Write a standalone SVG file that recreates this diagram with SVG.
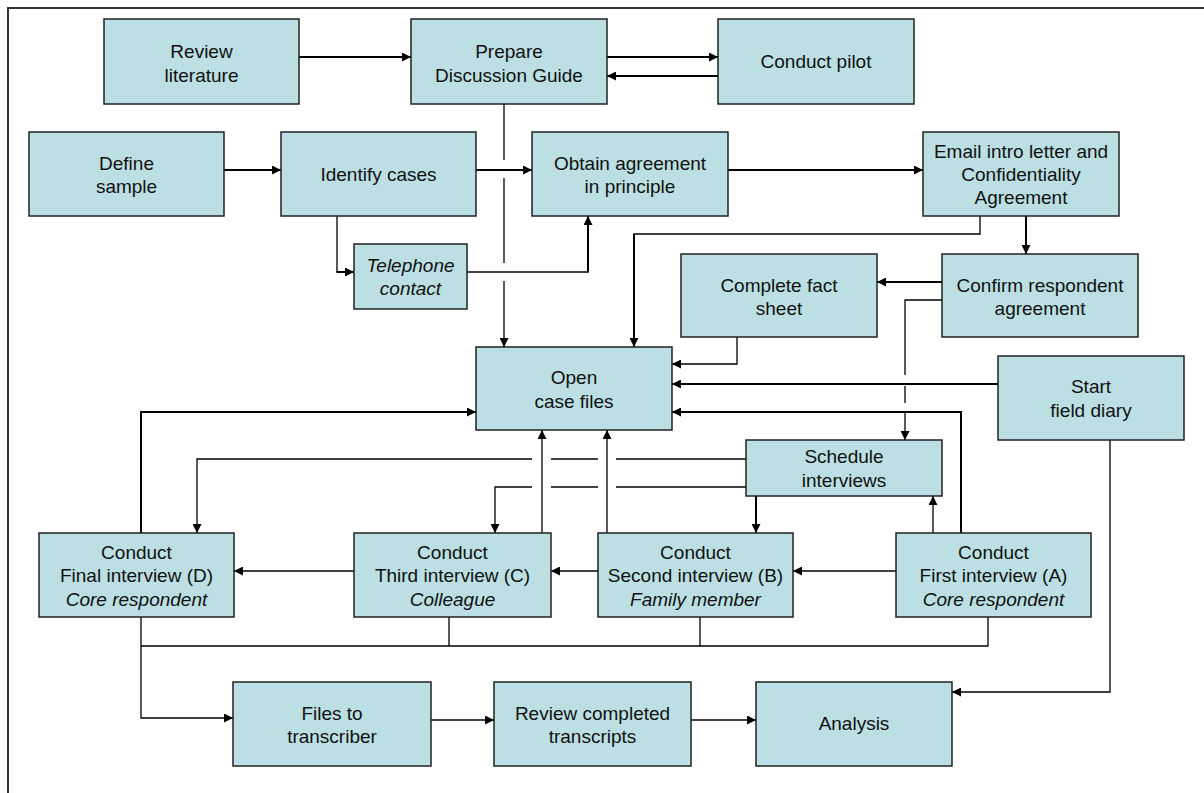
<svg xmlns="http://www.w3.org/2000/svg" width="1204" height="793" viewBox="0 0 1204 793">
  <style>
    .box { fill: #BBDFE2; stroke: #222; stroke-width: 1.5; }
    .lbl { font-family: "Liberation Sans", Arial, sans-serif; font-size: 19px; fill: #111; text-anchor: middle; }
    .it { font-style: italic; }
    .thick { fill: none; stroke: #000; stroke-width: 2; }
    .thin { fill: none; stroke: #000; stroke-width: 1.3; }
    .arr { marker-end: url(#ah); }
  </style>
  <defs>
    <marker id="ah" viewBox="0 0 10 10" refX="10" refY="5" markerWidth="10" markerHeight="9" markerUnits="userSpaceOnUse" orient="auto">
      <path d="M0,0 L10,5 L0,10 z" fill="#000"/>
    </marker>
  </defs>
  <rect width="1204" height="793" fill="#fff"/>
  <!-- page frame -->
  <path d="M8,793 V8 H1204" fill="none" stroke="#333" stroke-width="2"/>

  <!-- connectors -->
  <g id="connectors">
    <path class="thick arr" d="M299,57 H411"/>
    <path class="thick arr" d="M607,57 H718"/>
    <path class="thick arr" d="M718,76 H607"/>
    <path class="thick arr" d="M224,170 H281"/>
    <path class="thick arr" d="M476,170 H532"/>
    <path class="thick arr" d="M728,170 H923"/>
    <path class="thin" d="M504,104 V160"/>
    <path class="thin" d="M504,178 V263"/>
    <path class="thin arr" d="M504,281 V347"/>
    <path class="thin" d="M337,216 V272"/>
    <path class="thick arr" d="M336.4,272 H354"/>
    <path class="thin" d="M467,272 H588"/>
    <path class="thick arr" d="M588,272.6 V216"/>
    <path class="thin" d="M980,216 V234 H634"/>
    <path class="thick arr" d="M634,233.4 V347"/>
    <path class="thick arr" d="M1026,216 V254"/>
    <path class="thick arr" d="M942,282 H877"/>
    <path class="thin" d="M942,300 H905 V375"/>
    <path class="thin" d="M905,386 V403"/>
    <path class="thin arr" d="M905,412 V440"/>
    <path class="thin arr" d="M737,337 V364 H672"/>
    <path class="thick arr" d="M998,384 H672"/>
    <path class="thick arr" d="M961,533 V412 H672"/>
    <path class="thick arr" d="M141,533 V412 H476"/>
    <path class="thin arr" d="M933,533 V496"/>
    <path class="thick arr" d="M756,496 V533"/>
    <path class="thin" d="M746,459 H616"/>
    <path class="thin" d="M598,459 H551"/>
    <path class="thin arr" d="M532,459 H197 V533"/>
    <path class="thin" d="M746,487 H616"/>
    <path class="thin" d="M598,487 H551"/>
    <path class="thin arr" d="M532,487 H495 V533"/>
    <path class="thin arr" d="M542,533 V430"/>
    <path class="thin arr" d="M607,533 V430"/>
    <path class="thin arr" d="M896,571 H793"/>
    <path class="thin arr" d="M598,571 H551"/>
    <path class="thin arr" d="M354,571 H234"/>
    <path class="thin" d="M141,646 H988 V617"/>
    <path class="thin" d="M449,617 V646"/>
    <path class="thin" d="M700,617 V646"/>
    <path class="thin arr" d="M141,617 V718 H233"/>
    <path class="thin arr" d="M431,720 H494"/>
    <path class="thin arr" d="M691,720 H756"/>
    <path class="thin arr" d="M1110,440 V692 H952"/>
  </g>

  <!-- nodes -->
  <g id="review-literature">
    <rect class="box" x="104" y="19" width="195" height="85"/>
    <text class="lbl" x="201.5" y="58">Review</text>
    <text class="lbl" x="201.5" y="82">literature</text>
  </g>
  <g id="prepare-guide">
    <rect class="box" x="411" y="19" width="196" height="85"/>
    <text class="lbl" x="509" y="58">Prepare</text>
    <text class="lbl" x="509" y="82">Discussion Guide</text>
  </g>
  <g id="conduct-pilot">
    <rect class="box" x="718" y="19" width="196" height="85"/>
    <text class="lbl" x="816" y="68">Conduct pilot</text>
  </g>
  <g id="define-sample">
    <rect class="box" x="29" y="132" width="195" height="84"/>
    <text class="lbl" x="126.5" y="170">Define</text>
    <text class="lbl" x="126.5" y="193">sample</text>
  </g>
  <g id="identify-cases">
    <rect class="box" x="281" y="132" width="195" height="84"/>
    <text class="lbl" x="378.5" y="181">Identify cases</text>
  </g>
  <g id="obtain-agreement">
    <rect class="box" x="532" y="132" width="196" height="84"/>
    <text class="lbl" x="630" y="170">Obtain agreement</text>
    <text class="lbl" x="630" y="193">in principle</text>
  </g>
  <g id="email-intro">
    <rect class="box" x="923" y="132" width="196" height="84"/>
    <text class="lbl" x="1021" y="158">Email intro letter and</text>
    <text class="lbl" x="1021" y="181">Confidentiality</text>
    <text class="lbl" x="1021" y="204">Agreement</text>
  </g>
  <g id="telephone-contact">
    <rect class="box" x="354" y="244" width="113" height="65"/>
    <text class="lbl it" x="410.5" y="272">Telephone</text>
    <text class="lbl it" x="410.5" y="295">contact</text>
  </g>
  <g id="complete-fact-sheet">
    <rect class="box" x="681" y="254" width="196" height="83"/>
    <text class="lbl" x="779" y="292">Complete fact</text>
    <text class="lbl" x="779" y="315">sheet</text>
  </g>
  <g id="confirm-agreement">
    <rect class="box" x="942" y="254" width="196" height="83"/>
    <text class="lbl" x="1040" y="292">Confirm respondent</text>
    <text class="lbl" x="1040" y="315">agreement</text>
  </g>
  <g id="open-case-files">
    <rect class="box" x="476" y="347" width="196" height="83"/>
    <text class="lbl" x="574" y="384">Open</text>
    <text class="lbl" x="574" y="408">case files</text>
  </g>
  <g id="start-field-diary">
    <rect class="box" x="998" y="356" width="186" height="84"/>
    <text class="lbl" x="1091" y="393">Start</text>
    <text class="lbl" x="1091" y="417">field diary</text>
  </g>
  <g id="schedule-interviews">
    <rect class="box" x="746" y="440" width="196" height="56"/>
    <text class="lbl" x="844" y="463">Schedule</text>
    <text class="lbl" x="844" y="487">interviews</text>
  </g>
  <g id="interview-d">
    <rect class="box" x="39" y="533" width="195" height="84"/>
    <text class="lbl" x="136.5" y="559">Conduct</text>
    <text class="lbl" x="136.5" y="582">Final interview (D)</text>
    <text class="lbl it" x="136.5" y="606">Core respondent</text>
  </g>
  <g id="interview-c">
    <rect class="box" x="354" y="533" width="197" height="84"/>
    <text class="lbl" x="452.5" y="559">Conduct</text>
    <text class="lbl" x="452.5" y="582">Third interview (C)</text>
    <text class="lbl it" x="452.5" y="606">Colleague</text>
  </g>
  <g id="interview-b">
    <rect class="box" x="598" y="533" width="195" height="84"/>
    <text class="lbl" x="695.5" y="559">Conduct</text>
    <text class="lbl" x="695.5" y="582">Second interview (B)</text>
    <text class="lbl it" x="695.5" y="606">Family member</text>
  </g>
  <g id="interview-a">
    <rect class="box" x="896" y="533" width="195" height="84"/>
    <text class="lbl" x="993.5" y="559">Conduct</text>
    <text class="lbl" x="993.5" y="582">First interview (A)</text>
    <text class="lbl it" x="993.5" y="606">Core respondent</text>
  </g>
  <g id="files-to-transcriber">
    <rect class="box" x="233" y="682" width="198" height="84"/>
    <text class="lbl" x="332" y="720">Files to</text>
    <text class="lbl" x="332" y="743">transcriber</text>
  </g>
  <g id="review-transcripts">
    <rect class="box" x="494" y="682" width="197" height="84"/>
    <text class="lbl" x="592.5" y="720">Review completed</text>
    <text class="lbl" x="592.5" y="743">transcripts</text>
  </g>
  <g id="analysis">
    <rect class="box" x="756" y="682" width="196" height="84"/>
    <text class="lbl" x="854" y="730">Analysis</text>
  </g>
</svg>
